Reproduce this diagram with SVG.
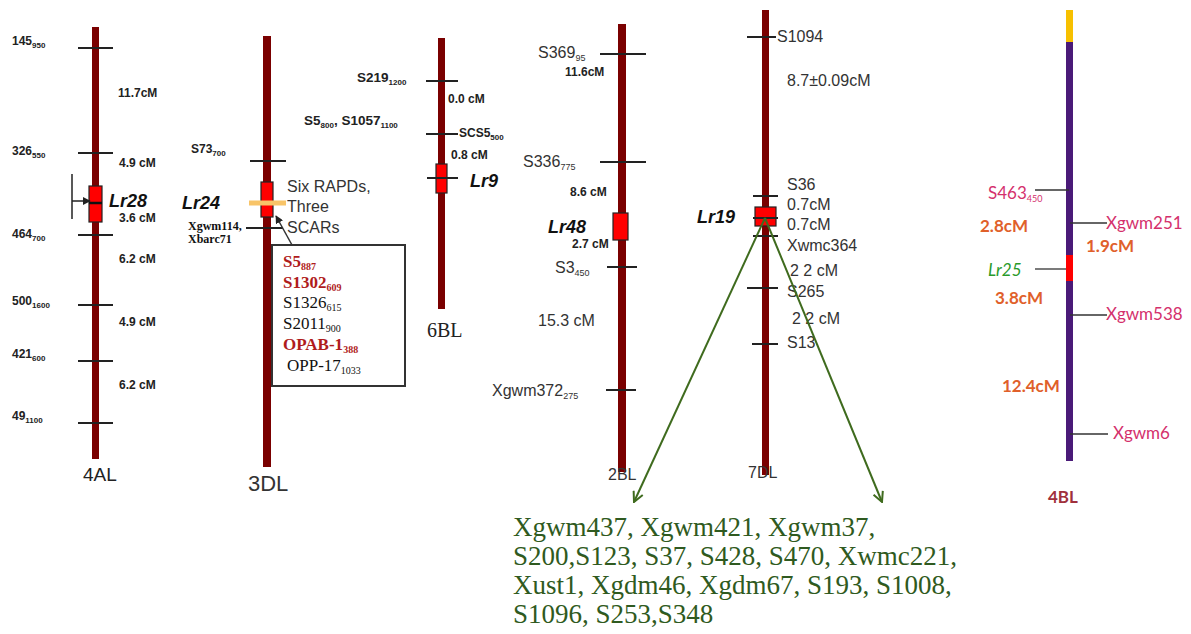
<svg xmlns="http://www.w3.org/2000/svg" width="1191" height="634" viewBox="0 0 1191 634">
<style>
.bar{fill:#7a0000}
.tk{stroke:#222;stroke-width:2}
.tk1{stroke:#333;stroke-width:1.3}
.sm{font-family:"Liberation Sans",Arial,sans-serif;font-size:12px;font-weight:bold;fill:#222}
.sm6{font-size:13.5px}
.md{font-family:"Liberation Sans",Arial,sans-serif;font-size:16px;fill:#333}
.lr{font-family:"Liberation Sans",Arial,sans-serif;font-size:18px;font-weight:bold;font-style:italic;fill:#111}
.sf{font-family:"Liberation Serif","Times New Roman",serif;font-size:17px;fill:#111}
.sfb{font-family:"Liberation Serif","Times New Roman",serif;font-size:12px;font-weight:bold;fill:#111}
.red{fill:#b01c1c;font-weight:bold}
.box{fill:#ff0000;stroke:#222;stroke-width:1.2}
.cb{font-family:Lato,"Open Sans",sans-serif;font-size:17px}
.pk{fill:#d4306c}
.or{fill:#e0602a;font-weight:bold}
.gn{font-family:"Liberation Serif","Times New Roman",serif;font-size:27px;fill:#2f5a20}
.arr{stroke:#3f6b1e;stroke-width:2;fill:none}
</style>
<defs>
<marker id="ga" viewBox="0 0 12 12" refX="11" refY="6" markerWidth="12" markerHeight="12" markerUnits="userSpaceOnUse" orient="auto">
<path d="M1,1 L11,6 L1,11" fill="none" stroke="#3f6b1e" stroke-width="2"/>
</marker>
<marker id="ka" viewBox="0 0 10 10" refX="9" refY="5" markerWidth="8" markerHeight="8" markerUnits="userSpaceOnUse" orient="auto">
<path d="M0,0 L10,5 L0,10 z" fill="#222"/>
</marker>
</defs>

<g id="chr-4AL">
<rect class="bar" x="92" y="27" width="7" height="432"/>
<line class="tk" x1="78" y1="48" x2="113" y2="48"/>
<line class="tk" x1="78" y1="153" x2="113" y2="153"/>
<line class="tk" x1="78" y1="235" x2="113" y2="235"/>
<line class="tk" x1="78" y1="305" x2="113" y2="305"/>
<line class="tk" x1="78" y1="361" x2="113" y2="361"/>
<line class="tk" x1="78" y1="423" x2="113" y2="423"/>
<rect class="box" x="89" y="186" width="13" height="36"/>
<line x1="89" y1="203" x2="102" y2="203" stroke="#111" stroke-width="2.5"/>
<text class="sm" x="12" y="45">145<tspan font-size="8" dy="3">950</tspan></text>
<text class="sm" x="12" y="155">326<tspan font-size="8" dy="3">550</tspan></text>
<text class="sm" x="12" y="238">464<tspan font-size="8" dy="3">700</tspan></text>
<text class="sm" x="12" y="305">500<tspan font-size="8" dy="3">1600</tspan></text>
<text class="sm" x="12" y="358">421<tspan font-size="8" dy="3">600</tspan></text>
<text class="sm" x="12" y="420">49<tspan font-size="8" dy="3">1100</tspan></text>
<text class="sm" x="118" y="97">11.7cM</text>
<text class="sm" x="119" y="167">4.9 cM</text>
<text class="sm" x="119" y="222">3.6 cM</text>
<text class="sm" x="119" y="263">6.2 cM</text>
<text class="sm" x="119" y="326">4.9 cM</text>
<text class="sm" x="119" y="389">6.2 cM</text>
<text class="lr" x="109" y="207">Lr28</text>
<line x1="72" y1="174" x2="72" y2="219" stroke="#222" stroke-width="1.5"/>
<line x1="72" y1="201" x2="90" y2="201" stroke="#222" stroke-width="1.5" marker-end="url(#ka)"/>
<text x="83" y="481" font-family="Liberation Sans,Arial,sans-serif" font-size="19" fill="#222">4AL</text>
</g>

<g id="chr-3DL">
<rect class="bar" x="263" y="36" width="8" height="431"/>
<line class="tk" x1="250" y1="161" x2="286" y2="161"/>
<rect class="box" x="261" y="182" width="12" height="35"/>
<line x1="249" y1="203" x2="286" y2="203" stroke="#f8c468" stroke-width="5"/>
<line class="tk" x1="246" y1="228" x2="283" y2="228"/>
<text class="sm" x="191" y="153">S73<tspan font-size="8" dy="3">700</tspan></text>
<text class="lr" x="182" y="209" font-size="19">Lr24</text>
<text class="sfb" x="188" y="230">Xgwm114,</text>
<text class="sfb" x="188" y="243">Xbarc71</text>
<text class="md" x="287" y="192">Six RAPDs,</text>
<text class="md" x="287" y="212">Three</text>
<text class="md" x="287" y="233">SCARs</text>
</g>

<g id="box-3DL">
<rect x="272" y="245" width="133" height="141" fill="#fff" stroke="#333" stroke-width="2"/>
<line x1="292" y1="245" x2="276" y2="216" stroke="#333" stroke-width="1.5" marker-end="url(#ka)"/>
<text class="sf red" x="283" y="267">S5<tspan font-size="10" dy="3">887</tspan></text>
<text class="sf red" x="283" y="288">S1302<tspan font-size="10" dy="3">609</tspan></text>
<text class="sf" x="283" y="308">S1326<tspan font-size="10" dy="3">615</tspan></text>
<text class="sf" x="283" y="329">S2011<tspan font-size="10" dy="3">900</tspan></text>
<text class="sf red" x="283" y="350">OPAB-1<tspan font-size="10" dy="3">388</tspan></text>
<text class="sf" x="287" y="371">OPP-17<tspan font-size="10" dy="3">1033</tspan></text>
<text x="248" y="491" font-family="Liberation Sans,Arial,sans-serif" font-size="22" fill="#333">3DL</text>
</g>

<g id="chr-6BL">
<rect class="bar" x="438" y="38" width="7" height="271"/>
<line class="tk" x1="426" y1="81" x2="458" y2="81"/>
<line class="tk" x1="426" y1="134" x2="458" y2="134"/>
<rect class="box" x="436" y="164" width="11" height="29"/>
<line class="tk" x1="427" y1="178" x2="458" y2="178"/>
<text class="sm sm6" x="357" y="82">S219<tspan font-size="8" dy="3">1200</tspan></text>
<text class="sm" x="448" y="103">0.0  cM</text>
<text class="sm sm6" x="304" y="125">S5<tspan font-size="8" dy="3">800</tspan><tspan dy="-3">, S1057</tspan><tspan font-size="8" dy="3">1100</tspan></text>
<text class="sm" x="459" y="137" font-size="13.5">SCS5<tspan font-size="8" dy="3">500</tspan></text>
<text class="sm" x="451" y="159">0.8 cM</text>
<text class="lr" x="470" y="187" font-size="17">Lr9</text>
<text x="427" y="337" font-family="Liberation Serif,Times New Roman,serif" font-size="20" fill="#222">6BL</text>
</g>

<g id="chr-2BL">
<rect class="bar" x="618" y="24" width="8" height="448"/>
<line class="tk" x1="600" y1="54" x2="646" y2="54"/>
<line class="tk" x1="600" y1="162" x2="646" y2="162"/>
<line class="tk" x1="607" y1="267" x2="637" y2="267"/>
<line class="tk" x1="606" y1="390" x2="636" y2="390"/>
<rect class="box" x="613" y="213" width="15" height="27"/>
<text class="md" x="538" y="58" font-size="17">S369<tspan font-size="9" dy="3">95</tspan></text>
<text class="sm" x="565" y="76">11.6cM</text>
<text class="md" x="523" y="167" font-size="17">S336<tspan font-size="9" dy="3">775</tspan></text>
<text class="sm" x="570" y="196">8.6  cM</text>
<text class="lr" x="548" y="233">Lr48</text>
<text class="sm" x="572" y="248">2.7 cM</text>
<text class="md" x="555" y="273" font-size="17">S3<tspan font-size="9" dy="3">450</tspan></text>
<text class="md" x="538" y="326" font-size="17">15.3  cM</text>
<text class="md" x="492" y="396" font-size="17">Xgwm372<tspan font-size="9" dy="3">275</tspan></text>
<text class="md" x="608" y="480">2BL</text>
</g>

<g id="chr-7DL">
<rect class="bar" x="762" y="10" width="7" height="465"/>
<line class="tk" x1="747" y1="37" x2="776" y2="37"/>
<line class="tk" x1="753" y1="196" x2="778" y2="196"/>
<rect class="box" x="755" y="207" width="21" height="19"/>
<line class="tk" x1="753" y1="218" x2="778" y2="218"/>
<line class="tk" x1="753" y1="236" x2="778" y2="236"/>
<line class="tk" x1="747" y1="288" x2="778" y2="288"/>
<line class="tk" x1="752" y1="344" x2="778" y2="344"/>
<text class="md" x="777" y="42" font-size="17">S1094</text>
<text class="md" x="787" y="86" font-size="17.5">8.7±0.09cM</text>
<text class="md" x="787" y="190" font-size="17">S36</text>
<text class="md" x="787" y="210" font-size="17">0.7cM</text>
<text class="md" x="787" y="230" font-size="17">0.7cM</text>
<text class="md" x="787" y="251" font-size="17">Xwmc364</text>
<text class="md" x="790" y="276" font-size="17">2 2 cM</text>
<text class="md" x="787" y="297" font-size="17">S265</text>
<text class="md" x="792" y="324" font-size="17">2 2 cM</text>
<text class="md" x="787" y="348" font-size="17">S13</text>
<text class="lr" x="697" y="223">Lr19</text>
<text class="md" x="748" y="478" font-size="15">7DL</text>
</g>

<g id="connectors">
<line class="arr" x1="765" y1="218" x2="634" y2="502" marker-end="url(#ga)"/>
<line class="arr" x1="765" y1="218" x2="882" y2="502" marker-end="url(#ga)"/>
</g>

<g id="marker-list">
<text class="gn" x="513" y="536">Xgwm437, Xgwm421, Xgwm37,</text>
<text class="gn" x="513" y="565">S200,S123, S37, S428, S470, Xwmc221,</text>
<text class="gn" x="513" y="594">Xust1, Xgdm46, Xgdm67, S193, S1008,</text>
<text class="gn" x="513" y="623">S1096, S253,S348</text>
</g>

<g id="chr-4BL">
<rect x="1066" y="10" width="7" height="451" fill="#4a1a78"/>
<rect x="1066" y="10" width="7" height="32" fill="#f7c000"/>
<rect x="1066" y="255" width="7" height="26" fill="#ff0000"/>
<line class="tk1" x1="1035" y1="190" x2="1069" y2="190"/>
<line class="tk1" x1="1070" y1="223" x2="1107" y2="223"/>
<line class="tk1" x1="1035" y1="269" x2="1066" y2="269"/>
<line class="tk1" x1="1070" y1="315" x2="1107" y2="315"/>
<line class="tk1" x1="1070" y1="434" x2="1108" y2="434"/>
<text class="cb pk" x="988" y="199">S463<tspan font-size="9" dy="3">450</tspan></text>
<text class="cb or" x="980" y="232">2.8cM</text>
<text class="cb pk" x="1106" y="229">Xgwm251</text>
<text class="cb or" x="1086" y="252">1.9cM</text>
<text class="cb" x="988" y="276" fill="#2a9a2a" font-style="italic">Lr25</text>
<text class="cb or" x="995" y="304">3.8cM</text>
<text class="cb pk" x="1106" y="320">Xgwm538</text>
<text class="cb or" x="1002" y="392">12.4cM</text>
<text class="cb pk" x="1113" y="439">Xgwm6</text>
<text class="cb" x="1048" y="503" fill="#a0303c" font-weight="bold">4BL</text>
</g>
</svg>
